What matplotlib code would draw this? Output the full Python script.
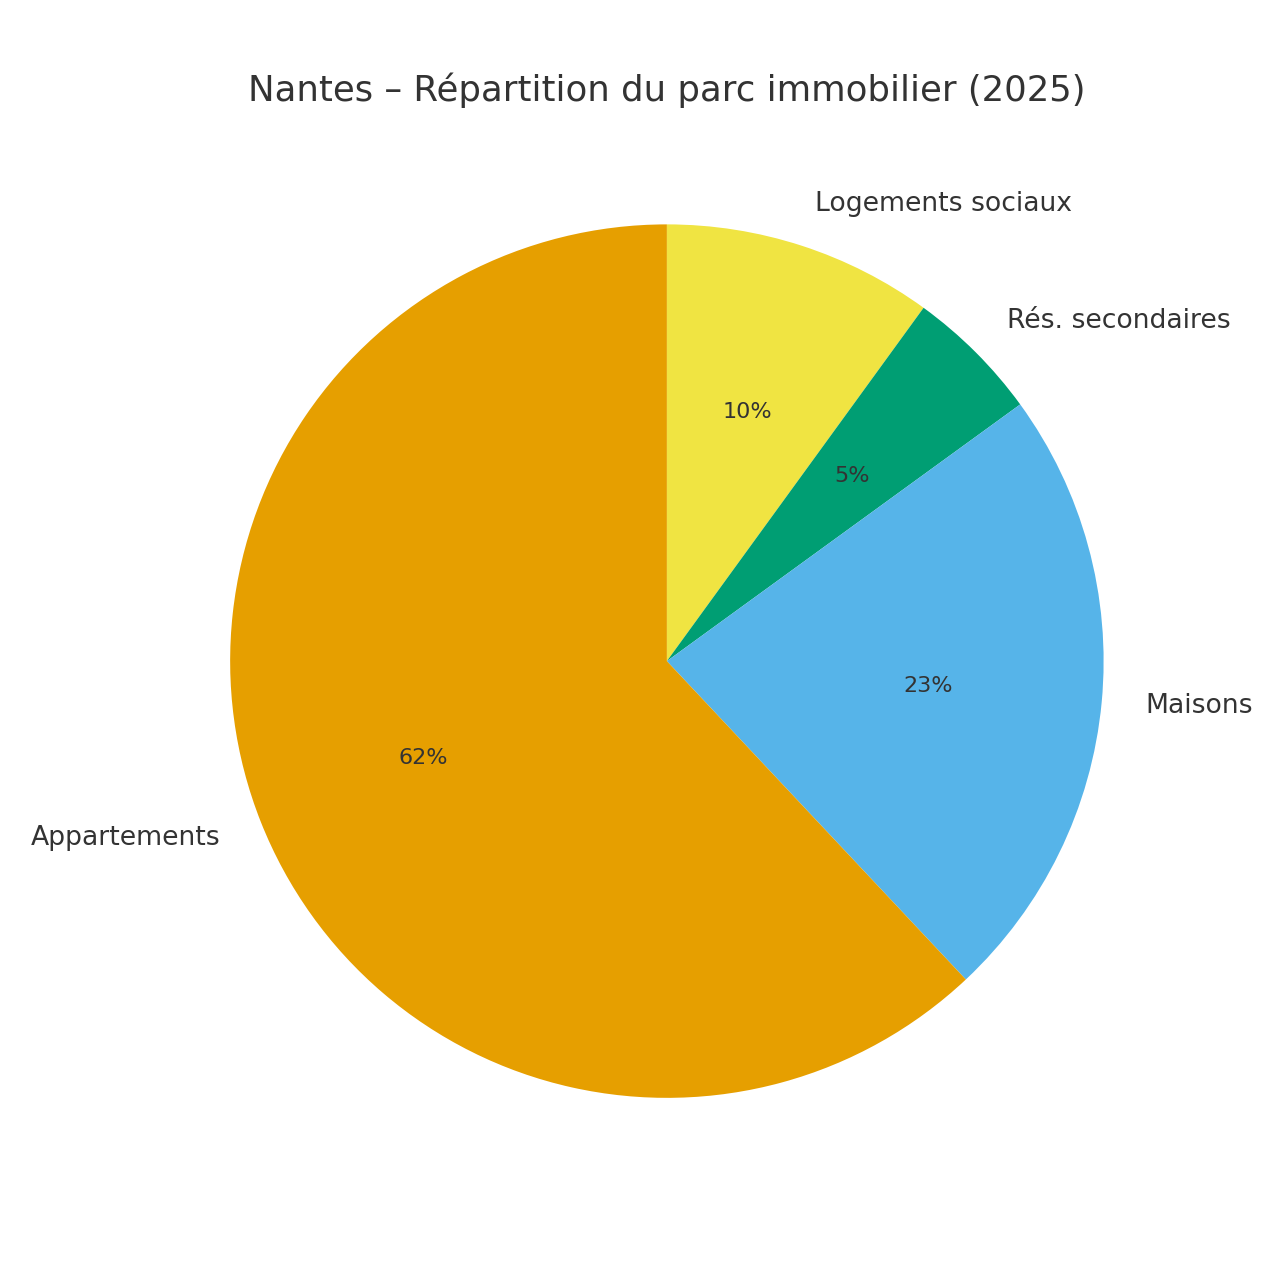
import matplotlib
matplotlib.use("Agg")
import matplotlib.pyplot as plt

categories = ["Logements sociaux", "Rés. secondaires", "Maisons", "Appartements"]
shares = [10, 5, 23, 62]
colors = ["#F0E442", "#009E73", "#56B4E9", "#E69F00"]
title = "Nantes – Répartition du parc immobilier (2025)"

text_color = "#333333"
fig = plt.figure(figsize=(6.4, 6.4), dpi=200)
ax = fig.add_axes([0.0945, 0.057, 0.853, 0.853])
wedges, texts, autotexts = ax.pie(
    shares, labels=categories, colors=colors, startangle=90, counterclock=False,
    autopct="%1.0f%%", pctdistance=0.6, labeldistance=1.1,
    textprops={"color": text_color, "fontsize": 9.6},
)
for t in autotexts:
    t.set_fontsize(8)
ax.set_aspect("equal")
ax.set_title(title, fontsize=12.8, color=text_color, pad=5)
fig.savefig("out.png", dpi=200, facecolor="white")
